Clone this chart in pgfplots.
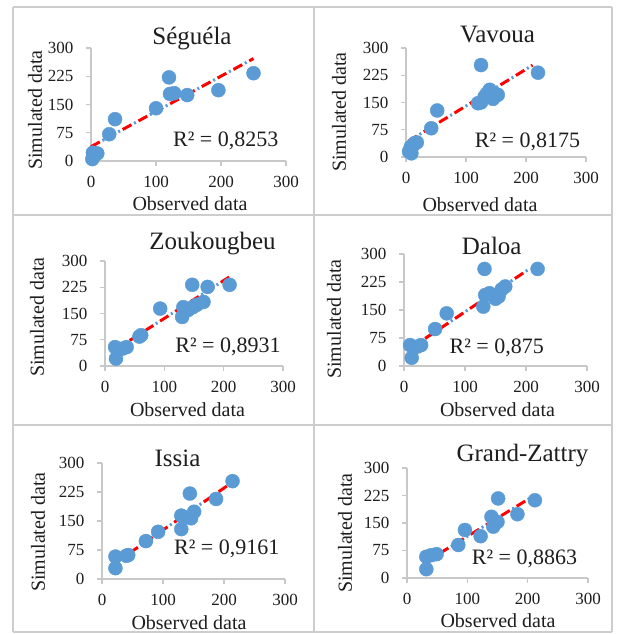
\documentclass[border=0pt]{standalone}
\usepackage{pgfplots}
\pgfplotsset{compat=1.18}
\usepackage{fontspec}
\setmainfont{Liberation Serif}

\definecolor{ptblue}{RGB}{91,155,213}
\definecolor{trred}{RGB}{255,0,0}
\definecolor{axgray}{RGB}{200,200,200}
\definecolor{frgray}{RGB}{205,205,205}
\definecolor{txt}{RGB}{30,30,30}

\pgfplotsset{
  panel/.style={
    scale only axis,
    xmin=0, xmax=300, ymin=0, ymax=300,
    axis x line=bottom, axis y line=left,
    axis line style={axgray, line width=1.2bp, -},
    xtick={0,100,200,300}, ytick={0,75,150,225,300},
    tick align=outside, major tick length=5bp,
    tick style={axgray, line width=1.2bp},
    /pgf/number format/assume math mode=true,
    tick label style={font=\fontsize{17bp}{17bp}\selectfont, text=txt},
    xticklabel style={yshift=-7bp},
    yticklabel style={xshift=-9bp},
    clip=false,
  },
  pts/.style={only marks, mark=*, mark size=7bp, mark options={fill=ptblue, draw=ptblue}},
  trdots/.style={ptblue, line width=3bp, dash pattern=on 2bp off 16bp, dash phase=5bp},
  trdash/.style={trred, line width=3bp, dash pattern=on 10bp off 8bp},
}

\begin{document}
\begin{tikzpicture}
\begin{scope}[x=1bp, y=1bp]
\fill[white] (0,0) rectangle (617,634);
\path[use as bounding box] (0,0) rectangle (617,634);

% frame of the six panels
\draw[frgray, line width=1.5bp] (13,627) -- (612,627);
\draw[frgray, line width=1.5bp] (13,419) -- (612,419);
\draw[frgray, line width=1.5bp] (13,209) -- (612,209);
\draw[frgray, line width=1.5bp] (13,2) -- (612,2);
\draw[frgray, line width=1.5bp] (13,2) -- (13,627);
\draw[frgray, line width=1.5bp] (314,2) -- (314,627);
\draw[frgray, line width=1.5bp] (612,2) -- (612,627);
\end{scope}

% Seguela
\begin{axis}[panel, at={(91bp,473bp)}, anchor=south west, width=195bp, height=113bp]
\addplot[pts] coordinates {(2,5) (4,12) (3.5,16) (6,18) (9.7,20) (3,22) (28,71) (37,111)
  (100,140) (120,222) (121.5,178) (128,180) (148,175) (196,188) (250,233)};
\addplot[trdots] coordinates {(0,38) (250,272)};
\addplot[trdash] coordinates {(0,38) (250,272)};
\end{axis}

% Vavoua
\begin{axis}[panel, at={(406bp,477bp)}, anchor=south west, width=180bp, height=109bp]
\addplot[pts] coordinates {(5,15) (9,10) (8,28) (14.5,38) (12,32) (18,40) (42,79) (52,128)
  (120,148) (125,150) (131,166) (135,175) (139.5,185) (145,160) (153,171) (125,253) (220,232)};
\addplot[trdots] coordinates {(4,43.5) (211,252.6)};
\addplot[trdash] coordinates {(4,43.5) (211,252.6)};
\end{axis}

% Zoukougbeu
\begin{axis}[panel, at={(105bp,268bp)}, anchor=south west, width=178bp, height=105bp]
\addplot[pts] coordinates {(18.5,21) (17,54) (36.5,54) (30,50) (61,88) (58,84) (93,164)
  (130,140) (132,168) (140,160) (147,232) (148,168) (155,175) (166,183) (173,226) (210,232)};
\addplot[trdots] coordinates {(16,45.3) (210,254.8)};
\addplot[trdash] coordinates {(16,45.3) (210,254.8)};
\end{axis}

% Daloa
\begin{axis}[panel, at={(404bp,268bp)}, anchor=south west, width=183bp, height=112bp]
\addplot[pts] coordinates {(12.6,22) (10,56) (28,56) (22,52) (51,99) (70,141) (132,260)
  (133,190) (130,159) (140,195) (155,186) (150,180) (166,213) (160,205) (219,260)};
\addplot[trdots] coordinates {(10,46.9) (203,257.3)};
\addplot[trdash] coordinates {(10,46.9) (203,257.3)};
\end{axis}

% Issia
\begin{axis}[panel, at={(102bp,55bp)}, anchor=south west, width=183bp, height=116bp]
\addplot[pts] coordinates {(22,28) (22,58) (43,62) (40,60) (72,98) (92,122) (130,129)
  (130,164) (135,160) (144,221) (146,157) (151,174) (187,207) (214,253)};
\addplot[trdots] coordinates {(21,41) (209,245)};
\addplot[trdash] coordinates {(21,41) (209,245)};
\end{axis}

% Grand-Zattry
\begin{axis}[panel, at={(407bp,56bp)}, anchor=south west, width=181bp, height=110bp]
\addplot[pts] coordinates {(32,24) (32,58) (49,65) (40,62) (85,90) (96,131) (122,114)
  (140,167) (143,140) (150,153) (151,217) (183,174) (212,212)};
\addplot[trdots] coordinates {(29,42) (212,226)};
\addplot[trdash] coordinates {(29,42) (212,226)};
\end{axis}

\begin{scope}[x=1bp, y=1bp]
% titles
\begin{scope}[every node/.style={text=txt, font=\fontsize{25bp}{25bp}\selectfont, anchor=base, inner sep=0}]
\node at (192,589) {Séguéla};
\node at (497.5,591) {Vavoua};
\node at (212.5,384) {Zoukougbeu};
\node at (491.7,379) {Daloa};
\node at (177.5,167) {Issia};
\node at (522.5,172) {Grand-Zattry};
\end{scope}

% R^2 texts
\begin{scope}[every node/.style={text=txt, font=\fontsize{22bp}{22bp}\selectfont, anchor=base, inner sep=0}]
\node at (225.7,487.3) {R² = 0,8253};
\node at (527.5,486) {R² = 0,8175};
\node at (228,281) {R² = 0,8931};
\node at (496.7,280.7) {R² = 0,875};
\node at (226.7,79) {R² = 0,9161};
\node at (524.5,69) {R² = 0,8863};
\end{scope}

% axis titles
\begin{scope}[every node/.style={text=txt, font=\fontsize{20bp}{20bp}\selectfont, inner sep=0}]
\node[anchor=base] at (190,423) {Observed data};
\node[anchor=base] at (480,422.3) {Observed data};
\node[anchor=base] at (187.5,217.3) {Observed data};
\node[anchor=base] at (497.5,217.3) {Observed data};
\node[anchor=base] at (189,4) {Observed data};
\node[anchor=base] at (498,6) {Observed data};
\node[rotate=90] at (35,524) {Simulated data};
\node[rotate=90] at (339,522) {Simulated data};
\node[rotate=90] at (37,317) {Simulated data};
\node[rotate=90] at (334,315) {Simulated data};
\node[rotate=90] at (38,102) {Simulated data};
\node[rotate=90] at (345,101) {Simulated data};
\end{scope}
\end{scope}
\end{tikzpicture}
\end{document}
